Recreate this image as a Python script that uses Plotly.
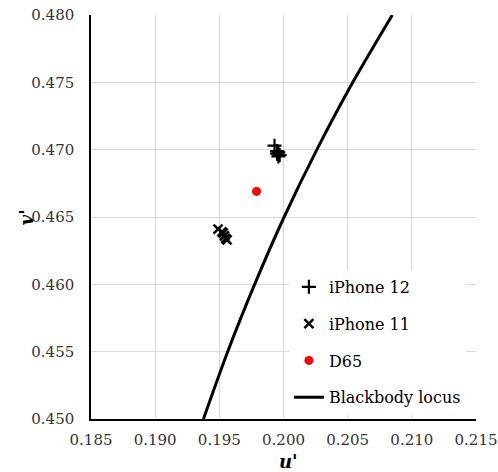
import plotly.graph_objects as go

# Data
iphone12_u = [0.1993, 0.1995, 0.1996, 0.1997, 0.1996, 0.1995]
iphone12_v = [0.4703, 0.4697, 0.4698, 0.4696, 0.4695, 0.4699]

iphone11_u = [0.1949, 0.1952, 0.1954, 0.1955, 0.1956, 0.1953]
iphone11_v = [0.4641, 0.4639, 0.4636, 0.4634, 0.4633, 0.4638]

d65_u = [0.1979]
d65_v = [0.4669]

locus_u = [0.19376, 0.19565, 0.19775, 0.20005, 0.20260, 0.20540, 0.20848]
locus_v = [0.450, 0.455, 0.460, 0.465, 0.470, 0.475, 0.480]

x_ticks = [0.185, 0.190, 0.195, 0.200, 0.205, 0.210, 0.215]
y_ticks = [0.450, 0.455, 0.460, 0.465, 0.470, 0.475, 0.480]

FONT = "DejaVu Serif"

fig = go.Figure()
fig.add_trace(go.Scatter(
    x=iphone12_u, y=iphone12_v, mode="markers", name="iPhone 12",
    legendgroup="a",
    marker=dict(symbol="cross-thin", size=10, color="black",
                line=dict(color="black", width=2.2)),
))
fig.add_trace(go.Scatter(
    x=iphone11_u, y=iphone11_v, mode="markers", name="iPhone 11",
    legendgroup="b",
    marker=dict(symbol="x-thin", size=9, color="black",
                line=dict(color="black", width=2.5)),
))
fig.add_trace(go.Scatter(
    x=d65_u, y=d65_v, mode="markers", name="D65",
    legendgroup="c",
    marker=dict(symbol="circle", size=9, color="#ff0000"),
))
fig.add_trace(go.Scatter(
    x=locus_u, y=locus_v, mode="lines", name="Blackbody locus",
    legendgroup="d",
    line=dict(color="black", width=3, shape="spline", smoothing=0.8),
))

fig.update_layout(
    width=498, height=472,
    margin=dict(l=91, r=22, t=15, b=53),
    paper_bgcolor="white", plot_bgcolor="white",
    font=dict(family=FONT, color="black", size=15),
    legend=dict(
        x=0.514, y=0.369, xanchor="left", yanchor="top",
        bgcolor="white", borderwidth=0,
        font=dict(family=FONT, size=16, color="black"),
        traceorder="grouped", tracegroupgap=13,
    ),
    annotations=[
        dict(text="<b><i>u'</i></b>", xref="paper", yref="paper",
             x=0.514, y=-0.106, xanchor="center", yanchor="middle",
             showarrow=False, font=dict(family=FONT, size=18, color="black")),
        dict(text="<b><i>v'</i></b>", xref="paper", yref="paper",
             x=-0.168, y=0.5, xanchor="center", yanchor="middle",
             textangle=-90, showarrow=False,
             font=dict(family=FONT, size=18, color="black")),
    ],
)
fig.update_xaxes(
    range=[0.185, 0.215], tickvals=x_ticks,
    ticktext=[f"{t:.3f}" for t in x_ticks],
    showgrid=True, gridcolor="#d9d9d9", gridwidth=1,
    showline=True, linecolor="black", linewidth=1.5,
    zeroline=False, ticks="outside", ticklen=0, ticklabelstandoff=6,
    tickfont=dict(family=FONT, size=15, color="#333333"),
    automargin=False,
)
fig.update_yaxes(
    range=[0.450, 0.480], tickvals=y_ticks,
    ticktext=[f"{t:.3f}" for t in y_ticks],
    showgrid=True, gridcolor="#d9d9d9", gridwidth=1,
    showline=True, linecolor="black", linewidth=1.5,
    zeroline=False, ticks="outside", ticklen=0, ticklabelstandoff=12,
    tickfont=dict(family=FONT, size=15, color="#333333"),
    automargin=False,
)

fig.write_html("out.html", config={"displayModeBar": False},
               post_script="document.body.style.margin='0';")
